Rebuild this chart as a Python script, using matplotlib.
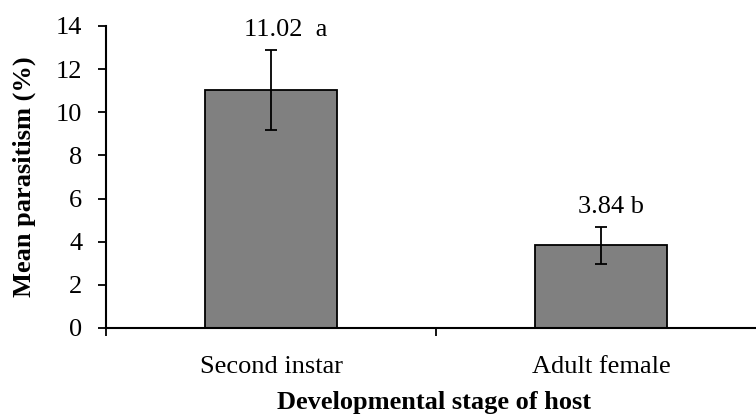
import numpy as np
import matplotlib.pyplot as plt

stages = ["Second instar", "Adult female"]
means = [11.02, 3.84]
errs = [1.85, 0.85]
labels = ["11.02  a", "3.84 b"]
label_shift = [0.045, 0.03]

plt.rcParams['font.family'] = ['Liberation Serif', 'DejaVu Serif']

fig = plt.figure(figsize=(7.56, 4.17), dpi=100)
ax = fig.add_axes([106/756, 89/417, 660/756, 302/417])

x = np.arange(len(stages))
ax.bar(x, means, width=0.4, color="#808080", edgecolor="black", linewidth=1.3,
       yerr=errs, capsize=4, error_kw=dict(elinewidth=1.3, capthick=1.3, ecolor="black"))

for xi, m, e, lab, sh in zip(x, means, errs, labels, label_shift):
    ax.text(xi + sh, m + e + 0.42, lab, ha="center", va="bottom", fontsize=19)

ax.set_xlim(-0.5, 1.5)
ax.set_ylim(0, 14)
ax.set_yticks(np.arange(0, 15, 2))
ax.set_xticks([-0.5, 0.5, 1.5])
ax.set_xticklabels([])
ax.set_xticks(x, minor=True)
ax.set_xticklabels(stages, minor=True, fontsize=19)
ax.tick_params(axis="x", which="minor", length=0, pad=20)
ax.tick_params(axis="x", which="major", length=6, width=1.3, direction="out")
ax.tick_params(axis="y", length=6, width=1.3, direction="out", labelsize=19, pad=11)

for s in ["top", "right"]:
    ax.spines[s].set_visible(False)
for s in ["left", "bottom"]:
    ax.spines[s].set_linewidth(1.5)

ax.set_ylabel("Mean parasitism (%)", fontsize=19, fontweight="bold", labelpad=14)
fig.text(434/756, 1 - 403/417, "Developmental stage of host", ha="center", va="center",
         fontsize=19, fontweight="bold")

fig.savefig("out.png", dpi=100)
